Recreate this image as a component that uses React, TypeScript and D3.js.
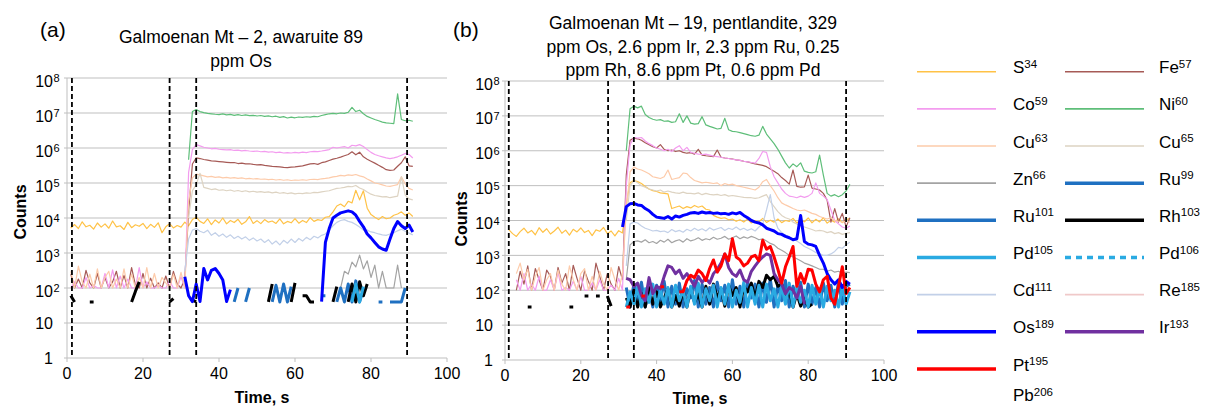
import React from "react";
import * as d3 from "d3";

const N = null;
const FONT = "'Liberation Sans', Arial, Helvetica, sans-serif";

// ---------------- Panel (a): counts per second, t = start + i ----------------
const aS34 = [
  5200, 6500, 5000, 7800, 5600, 6200, 4800, 7200, 5500, 6800,
  5100, 8200, 5600, 6000, 4700, 7500, 5300, 6400, 5800, 7000,
  5000, 6600, 5400, 7300, 3800, 5600, 6900, 5200, 6100, 5500,
  7600, 6000, 9000, 10500, 8000, 7000, 9500, 6500, 8800, 7200,
  10000, 6800, 8500, 7400, 9200, 6600, 7800, 11000, 7000, 8400,
  6900, 9000, 7600, 8200, 7000, 9400, 6800, 8000, 7300, 9600,
  7100, 8500, 7400, 10200, 8000, 9000, 8500, 10500, 11000, 15000,
  22000, 25000, 21000, 30000, 27000, 62000, 33000, 60000, 19000, 12500,
  10500, 9000, 11000, 9500, 10000, 12000, 13000, 15000, 12000, 14000,
  11000,
];
const aFe57 = [
  250, 100, 180, 100, 320, 140, 100, 260, 100, 200,
  100, 150, 300, 100, 230, 100, 380, 120, 100, 260,
  100, 190, 100, 140, 100, 220, 100, 300, 130, 100, 180,
  15000, 350000, 520000, 500000, 470000, 450000, 430000, 420000, 410000, 400000,
  390000, 380000, 385000, 360000, 370000, 350000, 355000, 340000, 330000, 335000,
  320000, 310000, 300000, 295000, 290000, 280000, 275000, 285000, 290000, 300000,
  310000, 330000, 350000, 360000, 340000, 380000, 400000, 440000, 480000, 510000,
  550000, 600000, 650000, 780000, 640000, 760000, 560000, 480000, 420000, 370000,
  320000, 280000, 240000, 230000, 235000, 300000, 380000, 560000, 310000, 300000,
];
const aCo59 = [
  100, 150, 100, 100, 200, 100, 120, 100, 100, 260,
  100, 330, 100, 220, 100, 180, 100, 100, 380, 100,
  150, 100, 100, 120, 100, 100, 160, 100, 100, 210, 100,
  200000, 900000, 1250000, 1150000, 1050000, 1000000, 950000, 980000, 920000, 900000,
  880000, 900000, 850000, 870000, 830000, 850000, 820000, 800000, 820000, 780000,
  800000, 760000, 780000, 740000, 760000, 720000, 740000, 720000, 750000, 730000,
  760000, 740000, 780000, 800000, 790000, 820000, 860000, 900000, 1050000, 1000000,
  1050000, 1100000, 1000000, 1200000, 1150000, 1250000, 1100000, 900000, 750000, 650000,
  600000, 560000, 520000, 500000, 520000, 560000, 620000, 700000, 650000, 520000,
];
const aNi60 = [
  460000, 11000000, 12500000, 11000000, 10200000, 9800000, 9500000, 9200000, 9000000, 9400000,
  8800000, 9100000, 8600000, 9000000, 8500000, 8800000, 8400000, 8600000, 8200000, 8500000,
  8000000, 8300000, 7800000, 8100000, 7500000, 7900000, 7200000, 7600000, 7300000, 7700000,
  7500000, 7800000, 7600000, 8000000, 7800000, 8500000, 9000000, 9500000, 9800000, 9500000,
  10000000, 9800000, 10500000, 14500000, 11000000, 12000000, 9500000, 8000000, 7200000, 6500000,
  6000000, 5500000, 5200000, 5100000, 5000000, 35000000, 6500000, 6000000, 6200000, 5800000,
];
const aCu63 = [
  300, 100, 420, 150, 100, 250, 100, 350, 100, 200,
  300, 100, 180, 100, 350, 100, 250, 100, 200, 100,
  380, 100, 260, 100, 200, 140, 100, 250, 100, 280, 100,
  30000, 140000, 180000, 170000, 160000, 150000, 155000, 145000, 150000, 140000,
  145000, 138000, 142000, 135000, 140000, 132000, 136000, 130000, 134000, 128000,
  130000, 125000, 128000, 122000, 126000, 120000, 124000, 118000, 122000, 120000,
  124000, 120000, 126000, 128000, 125000, 132000, 135000, 140000, 150000, 155000,
  165000, 160000, 170000, 165000, 175000, 160000, 150000, 130000, 115000, 100000,
  95000, 88000, 82000, 80000, 85000, 90000, 150000, 95000, 70000, 63000,
];
const aCu65 = [
  10000, 60000, 90000, 190000, 75000, 70000, 65000, 68000, 62000, 64000,
  60000, 63000, 58000, 61000, 57000, 60000, 56000, 58000, 55000, 57000,
  54000, 56000, 52000, 55000, 51000, 53000, 50000, 52000, 49000, 51000,
  50000, 52000, 51000, 54000, 53000, 56000, 58000, 60000, 65000, 70000,
  72000, 75000, 80000, 78000, 85000, 72000, 65000, 55000, 48000, 44000,
  42000, 40000, 41000, 38000, 40000, 42000, 150000, 45000, 35000, 33000,
];
const aZn66 = [100, 300, 250, 550, 400, 870, 350, 600, 200, 450, 100, 300, 100, 100, 100, 450, 100];
const aRu99 = [
  40, 100, N, 40, 100, N, N, N, N, N, 40, 120, 40, 130, 40, 110, N, N, N, N, N, N, N,
  60, 60, N, N, 40, 100, 40, 130, 40, 160, 40, 90, N, N, N, 40, 40, N, 40, 40, 40, 40, 100,
];
const aRh103 = [
  60, 40, N, N, N, 40, 40, N, N, N, N, N, N, N, N, N, 40, 80, 150, N,
  N, N, N, N, N, N, 40, 50, N, N, N, N, 45, 40, N, N, N, N, N, N,
  N, N, N, N, N, N, N, N, N, N, N, N, 40, 130, N, N, N, N, 40, 140,
  N, 60, 60, 40, 40, N, N, N, N, 40, 110, N, N, 40, 130, 40, 150, 60, 130, N,
  N, N, N, N, N, N, N, N, N, N, N,
];
const aPd105 = [40, 130, 40, 110];
const aCd111 = [
  300, 2500, 4500, 5000, 4200, 3800, 4500, 3200, 3800, 3000,
  3500, 2800, 3300, 2600, 3000, 2500, 2900, 2300, 2700, 2200,
  2500, 2000, 2400, 1800, 2200, 1700, 2300, 1900, 2500, 2000,
  2600, 2200, 2800, 2400, 3000, 2700, 3200, 3500, 4500, 6000,
  7500, 8500, 9000, 8000, 7500, 6500, 5500, 4500, 4500, 4000,
  3800, 3500, 3300, 3200, 3500, 3800, 4300, 4800, 4200, 3700, 3300,
];
const aOs189 = [
  210, 60, 41, 130, 41, 360, 170, 320, 360, 260, 170, 41, 90,
  N, N, N, N, N, N, N, N, N, N, N, N, N, N, N, N, N, N, N, N, N, N, N,
  41, 2000, 5000, 10000, 12000, 14000, 15000, 16000, 15000, 12000,
  8000, 5600, 3500, 2700, 2000, 1500, 1300, 1200, 2500, 5000,
  7900, 6000, 5000, 6300, 4000,
];

// ---------------- Panel (b) ----------------
const bS34 = [
  5500, 4200, 3500, 4800, 6000, 4400, 5200, 3900, 6200, 4600,
  5800, 4100, 5000, 6400, 4300, 5300, 3800, 5600, 4700, 6100,
  4500, 5200, 3700, 5400, 4900, 6300, 4200, 5000, 3600, 5100,
  4400, 30000, 120000, 140000, 130000, 115000, 95000, 80000, 72000, 68000,
  62000, 60000, 58000, 22000, 24000, 26000, 22000, 25000, 23000, 27000,
  24000, 26000, 21000, 20000, 14000, 12500, 11500, 12000, 10500, 11000,
  9500, 10500, 9000, 11000, 8500, 10000, 9200, 11500, 8800, 10200,
  9000, 11000, 8700, 10000, 9400, 11500, 8500, 10500, 9200, 11800,
  8600, 10800, 9100, 12000, 8400, 10200, 9000, 11200, 8700, 10500,
  11500,
];
const bFe57 = [
  100, 350, 150, 500, 100, 420, 200, 100, 380, 250,
  100, 450, 160, 300, 100, 520, 220, 100, 360, 180,
  100, 600, 250, 100, 300, 150, 100, 480, 200,
  200000, 2000000, 2300000, 2200000, 2000000, 1700000, 1500000, 1300000, 1200000, 1500000,
  1100000, 1000000, 1050000, 950000, 1000000, 900000, 850000, 880000, 800000, 1100000,
  750000, 720000, 700000, 680000, 1050000, 650000, 620000, 600000, 580000, 550000,
  530000, 500000, 480000, 450000, 420000, 400000, 380000, 350000, 300000, 260000,
  220000, 170000, 140000, 110000, 280000, 95000, 90000, 92000, 200000, 85000,
  80000, 75000, 60000, 38000, 9000, 22000, 9000, 16000, 6600, 12000,
];
const bCo59 = [
  200, 100, 300, 100, 150, 100, 250, 100, 100, 200,
  100, 330, 100, 120, 100, 180, 100, 250, 100, 100,
  160, 100, 200, 100, 100, 140, 100, 220, 100,
  100000, 1500000, 2400000, 2300000, 2400000, 1900000, 1600000, 1400000, 1200000, 1100000,
  1000000, 1100000, 950000, 1200000, 1400000, 1000000, 1250000, 900000, 850000, 800000,
  780000, 800000, 750000, 700000, 680000, 650000, 620000, 600000, 570000, 550000,
  530000, 500000, 480000, 460000, 440000, 600000, 950000, 900000, 350000, 180000,
  120000, 80000, 60000, 50000, 48000, 45000, 50000, 46000, 50000, 60000,
  120000, 60000, 50000, 40000, 20000, 10000, 8000, 6500, 6000, 7000,
];
const bNi60 = [
  1000000, 16000000, 19000000, 17000000, 19000000, 11000000, 9000000, 8000000, 7500000, 7800000,
  7000000, 7200000, 6500000, 6800000, 11500000, 6500000, 10000000, 6200000, 5800000, 6000000,
  9500000, 5500000, 5000000, 4600000, 4200000, 4400000, 8500000, 4000000, 3600000, 3500000,
  3300000, 3100000, 2900000, 2700000, 2600000, 2800000, 5000000, 3000000, 2200000, 1600000,
  1100000, 700000, 450000, 320000, 420000, 350000, 450000, 260000, 240000, 230000,
  250000, 750000, 200000, 60000, 50000, 55000, 48000, 55000, 70000, 110000,
];
const bCu63 = [
  300, 600, 200, 400, 100, 250, 450, 100, 200, 300,
  100, 380, 150, 100, 500, 200, 100, 300, 420, 100,
  250, 100, 350, 150, 100, 450, 200, 100, 300,
  20000, 250000, 340000, 300000, 280000, 250000, 220000, 180000, 170000, 160000,
  180000, 280000, 150000, 160000, 170000, 230000, 220000, 170000, 140000, 130000,
  120000, 125000, 120000, 115000, 120000, 100000, 115000, 105000, 110000, 100000,
  95000, 90000, 85000, 80000, 75000, 90000, 130000, 150000, 100000, 70000,
  45000, 32000, 28000, 25000, 22000, 20000, 19000, 20000, 18000, 16000,
  15000, 13000, 12000, 11000, 12000, 10000, 9500, 9000, 9500, 9000,
];
const bCu65 = [
  10000, 100000, 140000, 120000, 100000, 90000, 80000, 75000, 70000, 75000,
  65000, 70000, 65000, 62000, 60000, 65000, 60000, 60000, 58000, 62000,
  55000, 60000, 56000, 54000, 56000, 52000, 55000, 50000, 52000, 50000,
  48000, 46000, 45000, 45000, 43000, 45000, 50000, 55000, 35000, 25000,
  18000, 14000, 12000, 11000, 9000, 8000, 7000, 6500, 6000, 5500,
  5000, 5200, 5000, 4500, 4800, 4200, 4500, 4000, 4300, 4500,
];
const bZn66 = [
  200, 2000, 2500, 2600, 2400, 2800, 2300, 2500, 2200, 2700,
  2400, 2900, 2300, 2600, 2800, 2400, 3000, 2600, 2800, 3200,
  2700, 3000, 2800, 3300, 2900, 3100, 3500, 2900, 3200, 3600,
  3000, 3400, 3100, 3500, 3200, 2800, 3000, 2600, 2200, 2000,
  1600, 1400, 1200, 1000, 900, 800, 700, 600, 550, 500,
  450, 400, 400, 350, 380, 330, 350, 300, 330, 320,
];
const bRu99 = [
  120, 33, 150, 40, 170, 33, 100, 33, 140, 50,
  180, 33, 130, 40, 160, 33, 110, 60, 190, 33,
  150, 40, 120, 33, 170, 50, 140, 33, 200, 40,
  130, 33, 180, 60, 150, 33, 160, 45, 210, 33,
  140, 50, 190, 33, 130, 60, 170, 33, 150, 40,
  120, 33, 160, 50, 140, 33, 180, 40, 130, 150,
];
const bRh103 = [
  N, N, N, N, N, 33, 33, N, N, N, N, N, N, N, N, N, 33, 33, N, N,
  68, 68, N, 68, 68, N, 68, 35, N, N, N,
  60, 33, 100, 33, 80, 33, 120, 40, 90, 33,
  60, 110, 33, 70, 35, 100, 33, 120, 45, 80,
  33, 130, 40, 150, 60, 110, 35, 140, 70, 120,
  33, 130, 90, 160, 60, 180, 120, 270, 200, 250,
  130, 150, 50, 100, 33, 80, 35, 60, 33, 40,
];
const bPd105 = [
  33, 90, 40, 130, 33, 110, 45, 150, 33, 100,
  40, 120, 33, 140, 50, 100, 33, 130, 40, 160,
  33, 110, 50, 140, 33, 120, 40, 150, 33, 100,
  45, 170, 33, 120, 40, 140, 33, 150, 50, 110,
  33, 130, 40, 160, 33, 120, 45, 100, 33, 140,
  40, 110, 33, 130, 50, 100, 33, 120, 40, 90,
];
const bCd111 = [
  500, 8000, 9000, 8500, 7000, 6000, 5500, 5000, 5200, 4800,
  5000, 4500, 5500, 4800, 5200, 4600, 5600, 5000, 6000, 5200,
  5800, 5000, 6200, 5300, 5800, 6300, 5200, 6000, 5500, 6500,
  5400, 6000, 5200, 5800, 5000, 6500, 8000, 20000, 55000, 12000,
  6000, 4500, 3800, 3400, 3000, 2600, 2200, 1800, 1600, 1400,
  1200, 1100, 1000, 1000, 1100, 1300, 1700, 1600, 2000, 2400,
];
const bOs189 = [
  6500, 25000, 30000, 31000, 28000, 27000, 22000, 19000, 15000, 12500,
  12000, 11500, 13000, 11000, 13500, 12500, 14000, 15000, 16500, 17000,
  16000, 17500, 16500, 17000, 16000, 16500, 15500, 16000, 15000, 16500,
  15500, 17000, 14000, 12000, 10000, 9000, 8500, 7500, 6000, 5500,
  5000, 4200, 4000, 3500, 3200, 2800, 3000, 14000, 2500, 2100,
  2000, 1800, 1000, 600, 300, 200, 150, 200, 120, 180, 150,
];
const bIr193 = [
  220, 200, 130, 160, 70, 50, 230, 80, 130, 110,
  250, 500, 450, 300, 380, 220, 300, 200, 130, 250,
  170, 220, 160, 300, 400, 600, 1100, 450, 300, 250,
  380, 200, 170, 350, 500, 700, 900, 1100, 1000, 300,
  200, 150, 80, 120, 100, 60, 130, 40,
];
const bPt195 = [
  33, 33, N, N, 68, 68, N, N, N, 126,
  126, N, N, N, 90, 90, 190, 270, 230, 380,
  300, 190, 420, 740, 330, 500, 1100, 700, 3000, 900,
  740, 500, 600, 900, 1000, 700, 2700, 1500, 1800, 900,
  400, 160, 470, 900, 1800, 130, 300, 160, 400, 380,
  150, 90, 200, 250, 60, 40, 130, 470, 80, 120,
];

// ---------------- styles, tick labels, legend ----------------
const STYLES: Record<string, { color: string; width: number; dash?: string }> = {
  S34: { color: "#FFC246", width: 1.2 },
  Fe57: { color: "#A65A56", width: 1.2 },
  Co59: { color: "#F39CEF", width: 1.2 },
  Ni60: { color: "#5EBE79", width: 1.2 },
  Cu63: { color: "#FDCBAA", width: 1.2 },
  Cu65: { color: "#DDD3C2", width: 1.2 },
  Zn66: { color: "#A3A3A3", width: 1.2 },
  Ru99: { color: "#1F70C1", width: 3 },
  Ru101: { color: "#1F70C1", width: 3 },
  Rh103: { color: "#000000", width: 3 },
  Pd105: { color: "#2AAAE2", width: 3 },
  Pd106: { color: "#2AAAE2", width: 3, dash: "7 5" },
  Cd111: { color: "#C2D0E8", width: 1.2 },
  Re185: { color: "#F0C9C9", width: 1.2 },
  Os189: { color: "#0000FF", width: 3 },
  Ir193: { color: "#7030A0", width: 3 },
  Pt195: { color: "#FF0000", width: 3 },
  Pb206: { color: "#FFFFFF", width: 1.2 },
};
const ORDER = Object.keys(STYLES);

const xTicks = [0, 20, 40, 60, 80, 100];
const yExponents = [0, 1, 2, 3, 4, 5, 6, 7, 8];

const legendCol1 = [["S", "34"], ["Co", "59"], ["Cu", "63"], ["Zn", "66"], ["Ru", "101"], ["Pd", "105"], ["Cd", "111"], ["Os", "189"], ["Pt", "195"], ["Pb", "206"]];
const legendCol2 = [["Fe", "57"], ["Ni", "60"], ["Cu", "65"], ["Ru", "99"], ["Rh", "103"], ["Pd", "106"], ["Re", "185"], ["Ir", "193"]];

type S = { key: string; start: number; values: (number | null)[] };
const SERIES_A: S[] = [
  { key: "S34", start: 1, values: aS34 },
  { key: "Fe57", start: 1, values: aFe57 },
  { key: "Co59", start: 1, values: aCo59 },
  { key: "Ni60", start: 32, values: aNi60 },
  { key: "Cu63", start: 1, values: aCu63 },
  { key: "Cu65", start: 32, values: aCu65 },
  { key: "Zn66", start: 72, values: aZn66 },
  { key: "Ru99", start: 44, values: aRu99 },
  { key: "Rh103", start: 1, values: aRh103 },
  { key: "Pd105", start: 75, values: aPd105 },
  { key: "Cd111", start: 31, values: aCd111 },
  { key: "Os189", start: 31, values: aOs189 },
];
const SERIES_B: S[] = [
  { key: "S34", start: 1, values: bS34 },
  { key: "Fe57", start: 3, values: bFe57 },
  { key: "Co59", start: 3, values: bCo59 },
  { key: "Ni60", start: 32, values: bNi60 },
  { key: "Cu63", start: 3, values: bCu63 },
  { key: "Cu65", start: 32, values: bCu65 },
  { key: "Zn66", start: 32, values: bZn66 },
  { key: "Ru99", start: 32, values: bRu99 },
  { key: "Rh103", start: 1, values: bRh103 },
  { key: "Pd105", start: 32, values: bPd105 },
  { key: "Cd111", start: 32, values: bCd111 },
  { key: "Os189", start: 31, values: bOs189 },
  { key: "Ir193", start: 32, values: bIr193 },
  { key: "Pt195", start: 32, values: bPt195 },
];

type Cfg = {
  xr: [number, number]; yr: [number, number]; dashes: number[];
  title: string[]; titleX: number; titleY: number[];
  tag: string; tagX: number; countsX: number; countsY: number;
  timeX: number; timeY: number; tickRight: number; xLabelY: number;
};
const PANEL_A: Cfg = {
  xr: [67, 447], yr: [358, 78], dashes: [1.3, 27, 34, 89.5],
  title: ["Galmoenan Mt – 2, awaruite 89", "ppm Os"], titleX: 241, titleY: [43.3, 66.5],
  tag: "(a)", tagX: 40, countsX: 20, countsY: 212, timeX: 262, timeY: 403, tickRight: 53, xLabelY: 379,
};
const PANEL_B: Cfg = {
  xr: [505, 884], yr: [360, 81], dashes: [1, 27.2, 34, 90],
  title: ["Galmoenan Mt – 19, pentlandite, 329", "ppm Os, 2.6 ppm Ir, 2.3 ppm Ru, 0.25", "ppm Rh, 8.6 ppm Pt, 0.6 ppm Pd"],
  titleX: 693, titleY: [29.3, 52.7, 76],
  tag: "(b)", tagX: 453, countsX: 461, countsY: 219, timeX: 700, timeY: 403.5, tickRight: 493, xLabelY: 381,
};

function Panel({ cfg, series }: { cfg: Cfg; series: S[] }) {
  const x = d3.scaleLinear().domain([0, 100]).range(cfg.xr);
  const y = d3.scaleLog().domain([1, 1e8]).range(cfg.yr);
  const line = d3
    .line<[number, number | null]>()
    .defined((d) => d[1] != null && (d[1] as number) > 0)
    .x((d) => x(d[0]))
    .y((d) => y(d[1] as number));
  const sorted = [...series].sort((a, b) => ORDER.indexOf(a.key) - ORDER.indexOf(b.key));
  const [x0, x1] = cfg.xr;
  return (
    <g>
      <text x={cfg.tagX} y={37} fontSize={21}>{cfg.tag}</text>
      {cfg.title.map((t, i) => (
        <text key={i} x={cfg.titleX} y={cfg.titleY[i]} fontSize={17.5} textAnchor="middle">{t}</text>
      ))}
      {yExponents.map((e) => (
        <line key={e} x1={x0 - 3} x2={x1} y1={y(10 ** e)} y2={y(10 ** e)} stroke="#BFBFBF" strokeWidth={1} />
      ))}
      <line x1={x0} x2={x0} y1={y(1e8)} y2={y(1)} stroke="#BFBFBF" strokeWidth={1} />
      {xTicks.map((t) => (
        <line key={t} x1={x(t)} x2={x(t)} y1={y(1)} y2={y(1) + 4} stroke="#BFBFBF" strokeWidth={1} />
      ))}
      {yExponents.map((e) => {
        const gy = y(10 ** e);
        if (e <= 1)
          return (
            <text key={e} x={cfg.tickRight} y={gy + 5.7} fontSize={16} textAnchor="end">{e === 0 ? "1" : "10"}</text>
          );
        return (
          <g key={e}>
            <text x={cfg.tickRight} y={gy + 8.5} fontSize={16} textAnchor="end">10</text>
            <text x={cfg.tickRight + 0.5} y={gy + 4} fontSize={11}>{e}</text>
          </g>
        );
      })}
      {xTicks.map((t) => (
        <text key={t} x={x(t)} y={cfg.xLabelY} fontSize={16} textAnchor="middle">{t}</text>
      ))}
      <text transform={`translate(${cfg.countsX},${cfg.countsY}) rotate(-90)`} y={5.7} fontSize={16} fontWeight="bold" textAnchor="middle">Counts</text>
      <text x={cfg.timeX} y={cfg.timeY} fontSize={16} fontWeight="bold" textAnchor="middle">Time, s</text>
      {sorted.map((s) => {
        const st = STYLES[s.key];
        const pts = s.values.map((v, i) => [s.start + i, v] as [number, number | null]);
        return (
          <path key={s.key} d={line(pts) || ""} fill="none" stroke={st.color} strokeWidth={st.width}
            strokeDasharray={st.dash} strokeLinejoin="round" />
        );
      })}
      {cfg.dashes.map((t, i) => (
        <line key={i} x1={x(t)} x2={x(t)} y1={y(1e8)} y2={y(1)} stroke="#000" strokeWidth={1.8} strokeDasharray="5 3" />
      ))}
    </g>
  );
}

function Legend() {
  const rowY = (i: number) => 71.7 + i * 37.15;
  const cols: [string[][], string[], number, number][] = [
    [legendCol1, ["S34", "Co59", "Cu63", "Zn66", "Ru101", "Pd105", "Cd111", "Os189", "Pt195", "Pb206"], 917, 1013],
    [legendCol2, ["Fe57", "Ni60", "Cu65", "Ru99", "Rh103", "Pd106", "Re185", "Ir193"], 1065, 1159],
  ];
  return (
    <g>
      {cols.map(([items, keys, lx, tx], c) =>
        items.map(([el, sup], i) => {
          const st = STYLES[keys[i]];
          const yy = Math.min(rowY(i), 399.5);
          const thick = st.width > 2;
          return (
            <g key={`${c}-${i}`}>
              <line x1={lx} x2={lx + 79} y1={yy} y2={yy} stroke={st.color} strokeWidth={thick ? 3.5 : 1.6}
                strokeDasharray={st.dash ? "6 5" : undefined} />
              <text x={tx} y={yy + 1.6} fontSize={17}>
                {el}
                <tspan fontSize={11.5} dy={-5.5}>{sup}</tspan>
              </text>
            </g>
          );
        })
      )}
    </g>
  );
}

export default function App() {
  return (
    <svg width={1205} height={407} style={{ position: "absolute", left: 0, top: 0, background: "#fff" }}
      fontFamily={FONT} fill="#000">
      <rect x={0} y={0} width={1205} height={407} fill="#fff" />
      <Panel cfg={PANEL_A} series={SERIES_A} />
      <Panel cfg={PANEL_B} series={SERIES_B} />
      <Legend />
    </svg>
  );
}
